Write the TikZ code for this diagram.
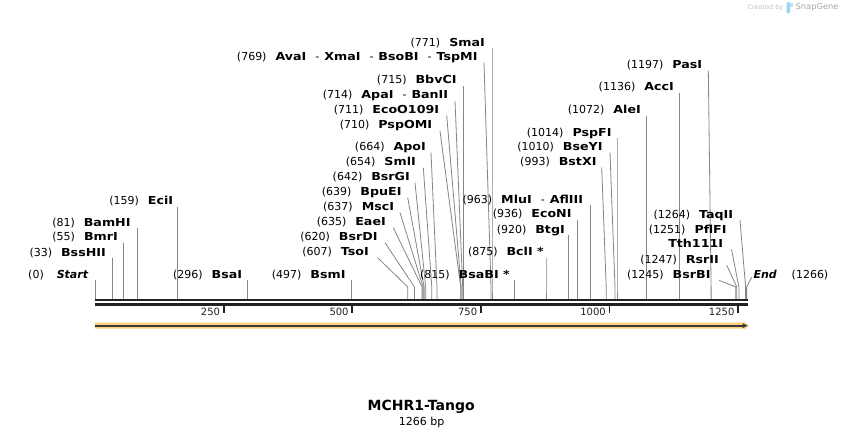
\documentclass[tikz,border=0pt]{standalone}
\usepackage{fontspec}
\setmainfont{DejaVu Sans}
\newfontfamily\enzfont{DejaVu Sans}[FakeStretch=1.15]
\newcommand\enzname[1]{{\enzfont\bfseries #1}}
\newcommand\enzit[1]{{\bfseries\itshape #1}}
\newcommand\gp{\hspace{9pt}}
\newcommand\sepd{\hspace{9pt}-\hspace{5pt}}
\definecolor{barcol}{HTML}{222222}
\definecolor{sitecol}{HTML}{858585}
\definecolor{orangeband}{HTML}{FDD07C}
\definecolor{arrowdark}{HTML}{3A3A3A}
\definecolor{credgray}{HTML}{C4C4C4}
\definecolor{snapgray}{HTML}{A8A8A8}
\definecolor{snapblue}{HTML}{9DD4F2}
\tikzset{
  lbl/.style={anchor=base east, inner sep=0pt, font=\fontsize{11}{13}\selectfont},
  lblw/.style={anchor=base west, inner sep=0pt, font=\fontsize{11}{13}\selectfont},
  siteline/.style={draw=sitecol, line width=0.8pt},
  barline/.style={draw=barcol},
  tickmark/.style={draw=barcol, line width=1.8pt},
  ticklbl/.style={anchor=base east, inner sep=0pt, font=\fontsize{10}{12}\selectfont, text=barcol},
}
% #1 id, #2 label right x, #3 label centre y, #4 label text, #5 line start x, #6 site x
\newcommand\enzsite[6]{%
  \node[lbl] (n#1) at (#2,#3+4) {#4};
  \coordinate (a#1) at (#5,#3+6);
  \coordinate (b#1) at (#6,287);
  \coordinate (c#1) at (#6,299);
  \draw[siteline] (a#1) -- (b#1) -- (c#1);
}
\begin{document}
\begin{tikzpicture}[x=1pt,y=-1pt]
\useasboundingbox (0,0) rectangle (844,438);
\fill[white] (0,0) rectangle (844,438);

% sequence bar
\coordinate (barL1) at (95,300);
\coordinate (barR1) at (748,300);
\coordinate (barL2) at (95,304.3);
\coordinate (barR2) at (748,304.3);
\draw[barline, line width=2.2pt] (barL1) -- (barR1);
\draw[barline, line width=3pt] (barL2) -- (barR2);

% ticks
\foreach \tx/\tl in {223.7/250, 352.3/500, 480.9/750, 609.5/1000, 738.1/1250}{
  \coordinate (tA\tl) at (\tx,305.8);
  \coordinate (tB\tl) at (\tx,312.7);
  \draw[tickmark] (tA\tl) -- (tB\tl);
  \node[ticklbl] (tl\tl) at (\tx-3.5,316) {\tl};
}

% feature arrow
\fill[orangeband] (95,322.7) -- (743.5,322.7) -- (743.5,321.3) -- (749,325.7) -- (743.5,330.1) -- (743.5,328.7) -- (95,328.7) -- cycle;
\coordinate (arL) at (95,325.7);
\coordinate (arR) at (743,325.7);
\draw[arrowdark, line width=2.3pt] (arL) -- (arR);
\fill[arrowdark] (742.5,323.2) -- (747.5,325.7) -- (742.5,328.2) -- cycle;

% enzyme sites
\enzsite{s0}{88.3}{274.3}{(0)\hspace{13pt}\enzit{Start}}{95.5}{95.5}
\enzsite{s33}{106}{252.3}{(33)\gp\enzname{BssHII}}{112.5}{112.5}
\enzsite{s55}{118}{236.7}{(55)\gp\enzname{BmrI}}{123.8}{123.8}
\enzsite{s81}{130.7}{222.3}{(81)\gp\enzname{BamHI}}{137.2}{137.2}
\enzsite{s159}{173.3}{200.7}{(159)\gp\enzname{EciI}}{177.3}{177.3}
\enzsite{s296}{242.3}{274.3}{(296)\gp\enzname{BsaI}}{247.7}{247.7}
\enzsite{s497}{345.7}{274.3}{(497)\gp\enzname{BsmI}}{351.1}{351.1}
\enzsite{s607}{369}{251.7}{(607)\gp\enzname{TsoI}}{377.7}{407.7}
\enzsite{s620}{377.7}{236.7}{(620)\gp\enzname{BsrDI}}{385}{414.4}
\enzsite{s635}{386}{221.7}{(635)\gp\enzname{EaeI}}{393.3}{422.1}
\enzsite{s637}{394.3}{206.7}{(637)\gp\enzname{MscI}}{400}{423.1}
\enzsite{s639}{401.7}{191.7}{(639)\gp\enzname{BpuEI}}{407.7}{424.1}
\enzsite{s642}{410}{176.7}{(642)\gp\enzname{BsrGI}}{415}{425.7}
\enzsite{s654}{416}{161.7}{(654)\gp\enzname{SmlI}}{423.3}{431.8}
\enzsite{s664}{426}{146.7}{(664)\gp\enzname{ApoI}}{431}{437.0}
\enzsite{s710}{432.3}{125}{(710)\gp\enzname{PspOMI}}{440}{460.7}
\enzsite{s711}{439.3}{109.3}{(711)\gp\enzname{EcoO109I}}{446.7}{461.2}
\enzsite{s714}{448.3}{95}{(714)\gp\enzname{ApaI}\sepd\enzname{BanII}}{455}{462.7}
\enzsite{s715}{456.7}{80}{(715)\gp\enzname{BbvCI}}{463.2}{463.2}
\enzsite{s769}{477.7}{56.7}{(769)\gp\enzname{AvaI}\sepd\enzname{XmaI}\sepd\enzname{BsoBI}\sepd\enzname{TspMI}}{484}{491.0}
\enzsite{s771}{485}{42.3}{(771)\gp\enzname{SmaI}}{492}{492}
\enzsite{s815}{510}{274.3}{(815)\gp\enzname{BsaBI *}}{514.6}{514.6}
\enzsite{s875}{544}{251.7}{(875)\gp\enzname{BclI *}}{546}{546}
\enzsite{s920}{565}{229.3}{(920)\gp\enzname{BtgI}}{568.7}{568.7}
\enzsite{s936}{571.7}{214}{(936)\gp\enzname{EcoNI}}{576.9}{576.9}
\enzsite{s963}{583.3}{199.3}{(963)\gp\enzname{MluI}\sepd\enzname{AflIII}}{590.8}{590.8}
\enzsite{s993}{596.7}{161.5}{(993)\gp\enzname{BstXI}}{601.7}{606.2}
\enzsite{s1010}{602.7}{146.7}{(1010)\gp\enzname{BseYI}}{610}{615}
\enzsite{s1014}{611.7}{132.3}{(1014)\gp\enzname{PspFI}}{617}{617}
\enzsite{s1072}{641}{110}{(1072)\gp\enzname{AleI}}{646.8}{646.8}
\enzsite{s1136}{674}{86.7}{(1136)\gp\enzname{AccI}}{679.7}{679.7}
\enzsite{s1197}{702.3}{64.3}{(1197)\gp\enzname{PasI}}{708.3}{711.1}
\enzsite{s1264}{733.3}{214.3}{(1264)\gp\enzname{TaqII}}{740}{745.6}
\node[lbl] (ns1251b) at (726.7,234) {(1251)\gp\enzname{PflFI}};
\enzsite{s1251}{723.3}{243.3}{\enzname{Tth111I}}{731.5}{738.9}
\enzsite{s1247}{719}{259.3}{(1247)\gp\enzname{RsrII}}{726.7}{736.8}
\enzsite{s1245}{710.7}{274.3}{(1245)\gp\enzname{BsrBI}}{719}{735.8}

% end marker
\node[lblw] (nEnd) at (753.3,278.3) {\enzit{End}\hspace{15pt}(1266)};
\coordinate (aEnd) at (751.7,277.3);
\coordinate (bEnd) at (746.6,287);
\coordinate (cEnd) at (746.6,299);
\draw[siteline] (aEnd) -- (bEnd) -- (cEnd);

% title
\node[inner sep=0pt, font=\fontsize{14}{16}\selectfont\bfseries] (title) at (421.2,406.7) {MCHR1-Tango};
\node[inner sep=0pt, font=\fontsize{11}{13}\selectfont] (len) at (421.7,422.3) {1266 bp};

% credit
\node[anchor=base east, inner sep=0pt, font=\fontsize{6.5}{8}\selectfont, text=credgray] (cred) at (783.5,9.2) {Created by};
\fill[snapblue] (786.5,2.5) -- (790,2.5) -- (790,12.5) -- (788.2,13.5) -- (786.5,12.5) -- cycle;
\fill[snapblue!70] (790,3) rectangle (792.5,7);
\node[anchor=base west, inner sep=0pt, font=\fontsize{8.3}{10}\selectfont, text=snapgray] (snap) at (795.5,10) {SnapGene};
\end{tikzpicture}
\end{document}
